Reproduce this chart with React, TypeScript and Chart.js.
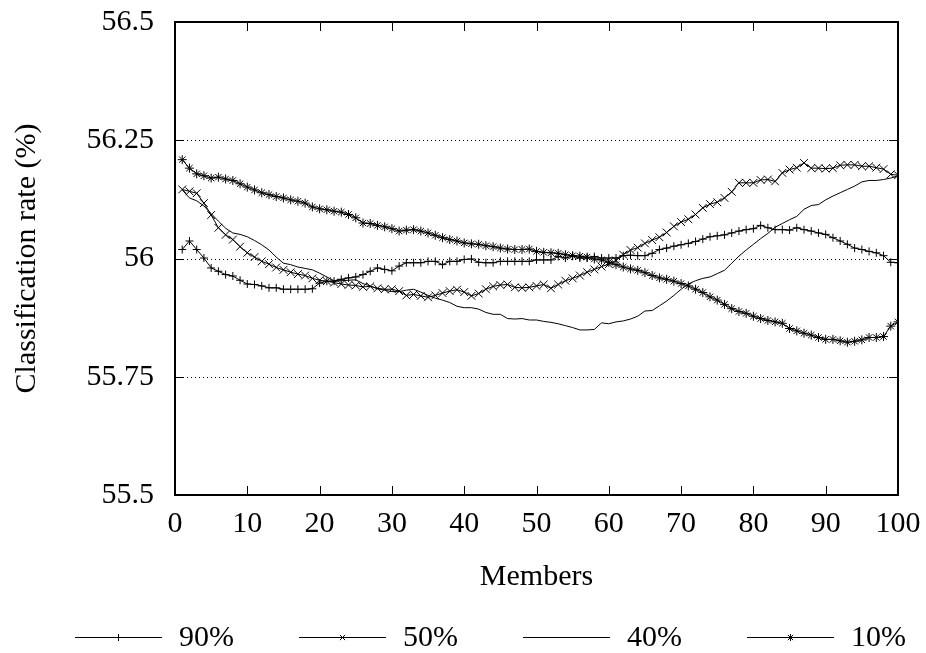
import React, { useEffect, useRef } from 'react';
import { Chart, registerables } from 'chart.js';

Chart.register(...registerables);

// ---------- data ----------
const members = [
  1, 2, 3, 4, 5, 6, 7, 8, 9, 10,
  11, 12, 13, 14, 15, 16, 17, 18, 19, 20,
  21, 22, 23, 24, 25, 26, 27, 28, 29, 30,
  31, 32, 33, 34, 35, 36, 37, 38, 39, 40,
  41, 42, 43, 44, 45, 46, 47, 48, 49, 50,
  51, 52, 53, 54, 55, 56, 57, 58, 59, 60,
  61, 62, 63, 64, 65, 66, 67, 68, 69, 70,
  71, 72, 73, 74, 75, 76, 77, 78, 79, 80,
  81, 82, 83, 84, 85, 86, 87, 88, 89, 90,
  91, 92, 93, 94, 95, 96, 97, 98, 99, 100,
];

const rate90 = [
  56.019, 56.037, 56.019, 56.001, 55.980, 55.973, 55.966, 55.963, 55.954, 55.946,
  55.945, 55.942, 55.938, 55.938, 55.935, 55.935, 55.935, 55.935, 55.936, 55.948,
  55.952, 55.952, 55.956, 55.959, 55.961, 55.966, 55.973, 55.980, 55.977, 55.974,
  55.984, 55.991, 55.991, 55.991, 55.994, 55.994, 55.987, 55.994, 55.994, 55.998,
  55.999, 55.992, 55.991, 55.991, 55.994, 55.994, 55.994, 55.994, 55.994, 55.997,
  55.997, 55.997, 56.004, 56.001, 56.005, 56.001, 56.001, 56.004, 56.001, 56.001,
  56.001, 56.006, 56.007, 56.006, 56.006, 56.011, 56.019, 56.022, 56.026, 56.029,
  56.032, 56.036, 56.041, 56.046, 56.048, 56.050, 56.054, 56.058, 56.061, 56.063,
  56.070, 56.065, 56.061, 56.061, 56.060, 56.065, 56.061, 56.058, 56.054, 56.051,
  56.044, 56.037, 56.030, 56.022, 56.019, 56.015, 56.012, 56.006, 55.992, 55.991,
];

const rate50 = [
  56.146, 56.142, 56.138, 56.117, 56.092, 56.065, 56.050, 56.040, 56.025, 56.012,
  56.003, 55.994, 55.988, 55.981, 55.976, 55.971, 55.967, 55.964, 55.958, 55.954,
  55.952, 55.949, 55.946, 55.944, 55.943, 55.940, 55.941, 55.937, 55.935, 55.935,
  55.931, 55.922, 55.924, 55.921, 55.918, 55.922, 55.927, 55.931, 55.934, 55.929,
  55.921, 55.926, 55.935, 55.941, 55.944, 55.945, 55.939, 55.938, 55.939, 55.942,
  55.945, 55.937, 55.945, 55.953, 55.958, 55.964, 55.971, 55.977, 55.983, 55.988,
  55.996, 56.008, 56.018, 56.023, 56.032, 56.039, 56.045, 56.055, 56.068, 56.077,
  56.083, 56.093, 56.107, 56.115, 56.119, 56.128, 56.141, 56.160, 56.160, 56.160,
  56.166, 56.167, 56.163, 56.181, 56.188, 56.192, 56.202, 56.191, 56.191, 56.190,
  56.191, 56.197, 56.198, 56.198, 56.195, 56.195, 56.192, 56.189, 56.178, 56.176,
];

const rate40 = [
  56.145, 56.128, 56.122, 56.111, 56.095, 56.079, 56.064, 56.054, 56.051, 56.046,
  56.038, 56.029, 56.018, 56.003, 55.990, 55.987, 55.982, 55.979, 55.976, 55.969,
  55.961, 55.953, 55.953, 55.954, 55.955, 55.947, 55.942, 55.936, 55.933, 55.930,
  55.930, 55.933, 55.935, 55.929, 55.922, 55.916, 55.912, 55.907, 55.899, 55.896,
  55.896, 55.893, 55.886, 55.882, 55.882, 55.873, 55.872, 55.873, 55.870, 55.870,
  55.867, 55.865, 55.862, 55.858, 55.854, 55.849, 55.849, 55.850, 55.864, 55.862,
  55.866, 55.868, 55.872, 55.878, 55.889, 55.890, 55.900, 55.910, 55.922, 55.935,
  55.946, 55.953, 55.958, 55.961, 55.968, 55.975, 55.990, 56.005, 56.018, 56.030,
  56.042, 56.053, 56.066, 56.074, 56.082, 56.089, 56.104, 56.112, 56.114, 56.124,
  56.132, 56.139, 56.146, 56.153, 56.162, 56.165, 56.165, 56.167, 56.170, 56.175,
];

const rate10 = [
  56.209, 56.191, 56.179, 56.175, 56.170, 56.172, 56.168, 56.165, 56.158, 56.151,
  56.145, 56.139, 56.135, 56.131, 56.128, 56.124, 56.121, 56.117, 56.109, 56.105,
  56.103, 56.100, 56.098, 56.093, 56.086, 56.075, 56.074, 56.070, 56.067, 56.063,
  56.058, 56.060, 56.061, 56.058, 56.054, 56.049, 56.044, 56.040, 56.037, 56.033,
  56.031, 56.030, 56.027, 56.025, 56.022, 56.020, 56.019, 56.019, 56.020, 56.015,
  56.013, 56.012, 56.011, 56.008, 56.006, 56.005, 56.003, 55.999, 55.997, 55.992,
  55.987, 55.982, 55.978, 55.975, 55.970, 55.964, 55.959, 55.956, 55.952, 55.947,
  55.942, 55.935, 55.928, 55.919, 55.912, 55.903, 55.894, 55.888, 55.884, 55.878,
  55.873, 55.869, 55.866, 55.863, 55.852, 55.847, 55.842, 55.838, 55.833, 55.829,
  55.829, 55.826, 55.823, 55.825, 55.828, 55.833, 55.833, 55.835, 55.857, 55.866,
];

const seriesNames = ['90%', '50%', '40%', '10%'];
const seriesMarkers = ['cross', 'crossRot', 'none', 'star'];

const xTicks = [0, 10, 20, 30, 40, 50, 60, 70, 80, 90, 100];
const xTickLabels = ['0', '10', '20', '30', '40', '50', '60', '70', '80', '90', '100'];
const yTicks = [55.5, 55.75, 56, 56.25, 56.5];
const yTickLabels = ['55.5', '55.75', '56', '56.25', '56.5'];
const yGridValues = [55.75, 56, 56.25];

const xTitle = 'Members';
const yTitle = 'Classification rate (%)';

// ---------- styling ----------
const W = 926;
const H = 653;
const FONT = '"Liberation Serif", "Times New Roman", serif';
const FS = 30;

function drawMarker(ctx: CanvasRenderingContext2D, kind: string, cx: number, cy: number, r: number) {
  ctx.beginPath();
  if (kind === 'cross' || kind === 'star') {
    ctx.moveTo(cx - r, cy); ctx.lineTo(cx + r, cy);
    ctx.moveTo(cx, cy - r); ctx.lineTo(cx, cy + r);
  }
  if (kind === 'crossRot' || kind === 'star') {
    const d = r * 0.75;
    ctx.moveTo(cx - d, cy - d); ctx.lineTo(cx + d, cy + d);
    ctx.moveTo(cx - d, cy + d); ctx.lineTo(cx + d, cy - d);
  }
  ctx.stroke();
}

const framePlugin = {
  id: 'gnuframe',
  beforeDatasetsDraw(chart: any) {
    const { ctx, chartArea, scales } = chart;
    const { left, right } = chartArea;
    const y = scales.y;
    ctx.save();
    ctx.strokeStyle = '#000';
    ctx.lineWidth = 1;
    ctx.setLineDash([1, 3]);
    for (const v of yGridValues) {
      const py = Math.round(y.getPixelForValue(v)) + 0.5;
      ctx.beginPath();
      ctx.moveTo(left, py);
      ctx.lineTo(right, py);
      ctx.stroke();
    }
    ctx.restore();
  },
  afterDatasetsDraw(chart: any) {
    const { ctx, chartArea, scales } = chart;
    const { left, right, top, bottom } = chartArea;
    const x = scales.x;
    const y = scales.y;
    ctx.save();
    ctx.strokeStyle = '#000';
    ctx.setLineDash([]);
    ctx.lineWidth = 1;
    const tl = 9;
    for (const v of xTicks) {
      const px = Math.round(x.getPixelForValue(v)) + 0.5;
      ctx.beginPath();
      ctx.moveTo(px, bottom); ctx.lineTo(px, bottom - tl);
      ctx.moveTo(px, top); ctx.lineTo(px, top + tl);
      ctx.stroke();
    }
    for (const v of yTicks) {
      const py = Math.round(y.getPixelForValue(v)) + 0.5;
      ctx.beginPath();
      ctx.moveTo(left, py); ctx.lineTo(left + tl, py);
      ctx.moveTo(right, py); ctx.lineTo(right - tl, py);
      ctx.stroke();
    }
    ctx.lineWidth = 2;
    ctx.strokeRect(left, top, right - left, bottom - top);
    ctx.restore();
  },
  afterDraw(chart: any) {
    const { ctx } = chart;
    const ly = 637;
    const lineStarts = [75, 299, 523, 747];
    const lineLen = 87;
    const textGap = 17;
    ctx.save();
    ctx.strokeStyle = '#000';
    ctx.fillStyle = '#000';
    ctx.lineWidth = 1;
    ctx.font = `${FS}px ${FONT}`;
    ctx.textAlign = 'left';
    ctx.textBaseline = 'middle';
    seriesNames.forEach((name, i) => {
      const x0 = lineStarts[i];
      ctx.beginPath();
      ctx.moveTo(x0, ly + 0.5);
      ctx.lineTo(x0 + lineLen, ly + 0.5);
      ctx.stroke();
      const mk = seriesMarkers[i];
      if (mk !== 'none') drawMarker(ctx, mk, x0 + lineLen / 2, ly + 0.5, 3.5);
      ctx.fillText(name, x0 + lineLen + textGap, ly + 1);
    });
    ctx.restore();
  },
};

function makeDataset(label: string, values: number[], style: string, radius: number) {
  return {
    label,
    data: members.map((m, i) => ({ x: m, y: values[i] })),
    borderColor: '#000',
    backgroundColor: '#000',
    borderWidth: 1,
    pointStyle: style === 'none' ? false : style,
    pointRadius: style === 'none' ? 0 : radius,
    pointBorderColor: '#000',
    pointBackgroundColor: '#000',
    pointBorderWidth: 1,
    tension: 0,
    fill: false,
  };
}

export default function App() {
  const ref = useRef<HTMLCanvasElement | null>(null);

  useEffect(() => {
    if (!ref.current) return;
    const chart = new Chart(ref.current, {
      type: 'line',
      data: {
        datasets: [
          makeDataset(seriesNames[0], rate90, seriesMarkers[0], 4),
          makeDataset(seriesNames[1], rate50, seriesMarkers[1], 5.5),
          makeDataset(seriesNames[2], rate40, seriesMarkers[2], 0),
          makeDataset(seriesNames[3], rate10, seriesMarkers[3], 4.5),
        ] as any,
      },
      options: {
        animation: false,
        responsive: false,
        devicePixelRatio: 1,
        layout: { padding: { left: 0, right: 28, top: 22, bottom: 58 } },
        plugins: { legend: { display: false }, tooltip: { enabled: false } },
        scales: {
          x: {
            type: 'linear',
            min: 0,
            max: 100,
            afterBuildTicks: (s: any) => {
              s.ticks = xTicks.map((v) => ({ value: v }));
            },
            afterFit: (s: any) => {
              s.height = 100;
            },
            ticks: {
              autoSkip: false,
              maxRotation: 0,
              padding: 0,
              color: '#000',
              font: { family: FONT, size: FS },
              callback: (_v: any, i: number) => xTickLabels[i],
            },
            grid: { display: false, drawTicks: true, tickLength: 11 },
            border: { display: false },
            title: {
              display: true,
              text: xTitle,
              color: '#000',
              font: { family: FONT, size: FS },
              padding: { top: 0, bottom: 0 },
            },
          },
          y: {
            type: 'linear',
            min: 55.5,
            max: 56.5,
            afterBuildTicks: (s: any) => {
              s.ticks = yTicks.map((v) => ({ value: v }));
            },
            afterFit: (s: any) => {
              s.width = 175;
            },
            ticks: {
              autoSkip: false,
              padding: 0,
              color: '#000',
              font: { family: FONT, size: FS },
              callback: (_v: any, i: number) => yTickLabels[i],
            },
            grid: { display: false, drawTicks: true, tickLength: 21 },
            border: { display: false },
            title: {
              display: true,
              text: yTitle,
              color: '#000',
              font: { family: FONT, size: FS },
              padding: { top: 9, bottom: 0 },
            },
          },
        },
      } as any,
      plugins: [framePlugin],
    });
    return () => chart.destroy();
  }, []);

  return (
    <div style={{ position: 'fixed', left: 0, top: 0, width: W, height: H, background: '#fff' }}>
      <canvas ref={ref} width={W} height={H} style={{ width: W, height: H, display: 'block' }} />
    </div>
  );
}
